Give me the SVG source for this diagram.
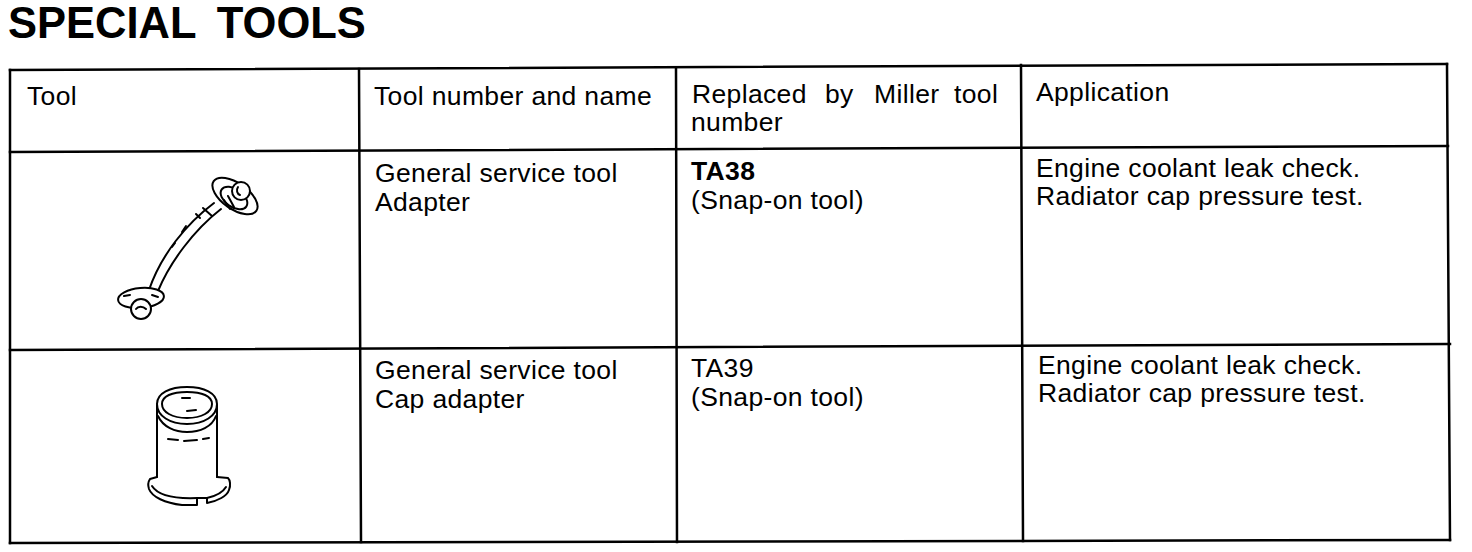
<svg xmlns="http://www.w3.org/2000/svg" width="1472" height="552" viewBox="0 0 1472 552">
<style>
.t{font-family:"Liberation Sans",Arial,sans-serif;font-size:26.5px;letter-spacing:0.35px;fill:#000}
.b{font-weight:bold}
.title{font-family:"Liberation Sans",Arial,sans-serif;font-size:43.5px;font-weight:bold;fill:#000;word-spacing:9px}
.ln{stroke:#000;stroke-width:2.5;fill:none;stroke-linecap:square}
.dr{stroke:#000;stroke-width:2;fill:none;stroke-linecap:round;stroke-linejoin:round}
.drf{stroke:#000;stroke-width:2;fill:#fff;stroke-linejoin:round}
</style>
<rect width="1472" height="552" fill="#fff"/>
<text class="title" x="8" y="38">SPECIAL TOOLS</text>

<g id="grid">
<path class="ln" d="M10,70 L1447,64 M10,152 L1448,146 M10,350 L1450,344 M10,543 L1450,540"/>
<path class="ln" d="M10,70 L10,543 M359,69 L361,542 M676,68 L677,542 M1021,65 L1023,541 M1447,64 L1450,540"/>
</g>

<g id="header">
<text class="t" x="27" y="105">Tool</text>
<text class="t" x="374" y="105">Tool number and name</text>
<text class="t" y="103"><tspan x="692">Replaced</tspan><tspan x="825">by</tspan><tspan x="874">Miller</tspan><tspan x="954">tool</tspan></text>
<text class="t" x="691" y="131">number</text>
<text class="t" x="1036" y="101">Application</text>
</g>

<g id="row1">
<g id="tool-adapter">
<path class="dr" d="M214,203 C186,224 161,255 149,290 M221,209 C194,230 170,262 158,291"/>
<path class="dr" d="M203,208 L212,216 M196,214 L200,218 M182,232 L186,226 M172,247 L175,243"/>
<ellipse class="drf" cx="235" cy="196" rx="26" ry="13" transform="rotate(35 235 196)"/>
<ellipse class="dr" cx="234" cy="198" rx="15" ry="9" transform="rotate(35 234 198)"/>
<path class="dr" d="M228,196 L234,207 M224,200 L230,209"/>
<circle class="drf" cx="241" cy="191" r="9"/>
<path class="dr" d="M238,187 C236,190 237,194 240,195"/>
<ellipse class="drf" cx="141" cy="298" rx="23" ry="10" transform="rotate(-5 141 298)"/>
<path class="dr" d="M124,296 L130,295 M152,295 L158,297"/>
<circle class="drf" cx="141" cy="309" r="10"/>
<path class="dr" d="M136,309 C138,306 143,306 146,309"/>
</g>
<text class="t" x="375" y="182">General service tool</text>
<text class="t" x="375" y="211">Adapter</text>
<text class="t b" x="691" y="180">TA38</text>
<text class="t" x="691" y="209">(Snap-on tool)</text>
<text class="t" x="1036" y="177">Engine coolant leak check.</text>
<text class="t" x="1036" y="205">Radiator cap pressure test.</text>
</g>

<g id="row2">
<g id="tool-cap-adapter">
<path class="dr" d="M157,405 L157,477 M217,405 L217,477"/>
<path class="dr" d="M157,477 L150,479 C148,482 148,486 149,489 C152,497 165,503 182,505 L197,505 L197,498 L207,498 L207,503 C218,501 227,496 229,490 C231,485 230,480 228,478 L217,477"/>
<path class="dr" d="M152,486 C157,494 172,499 197,498 M207,498 C216,496 223,492 226,487"/>
<path class="dr" d="M157,404 C157,393 170,387 187,387 C204,387 217,393 217,404 C217,416 204,424 187,424 C170,424 157,416 157,404 Z"/>
<path class="dr" d="M162,404 C162,396 172,392 187,392 C202,392 212,396 212,404 C212,412 202,418 187,418 C172,418 162,412 162,404 Z"/>
<path class="dr" d="M158,416 C163,427 175,432 187,432 C200,432 212,427 216,416"/>
<path class="dr" d="M168,439 L178,440 M184,441 L197,440 M203,439 L209,438"/>
<path class="dr" d="M182,398 L190,398 M187,411 L196,410"/>
</g>
<text class="t" x="375" y="379">General service tool</text>
<text class="t" x="375" y="408">Cap adapter</text>
<text class="t" x="691" y="377">TA39</text>
<text class="t" x="691" y="406">(Snap-on tool)</text>
<text class="t" x="1038" y="374">Engine coolant leak check.</text>
<text class="t" x="1038" y="402">Radiator cap pressure test.</text>
</g>
</svg>
